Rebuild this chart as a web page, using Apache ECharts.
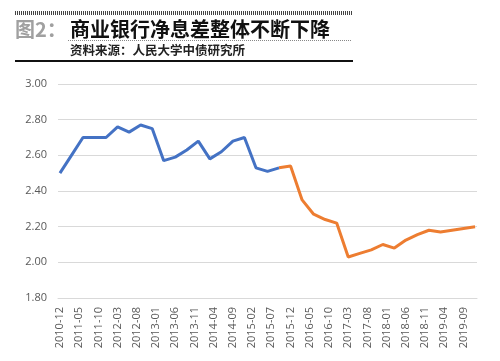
<!DOCTYPE html>
<html><head><meta charset="utf-8">
<script src="https://cdn.jsdelivr.net/npm/echarts@6/dist/echarts.min.js"></script>
<style>html,body{margin:0;padding:0;background:#fff}#c{width:500px;height:361px}</style>
</head><body><div id="c"></div>
<script>
// Quarterly net interest margin (%)
const quarters = ['2010-12','2011-03','2011-06','2011-09','2011-12','2012-03','2012-06','2012-09','2012-12',
  '2013-03','2013-06','2013-09','2013-12','2014-03','2014-06','2014-09','2014-12','2015-03','2015-06','2015-09',
  '2015-12','2016-03','2016-06','2016-09','2016-12','2017-03','2017-06','2017-09','2017-12','2018-03','2018-06',
  '2018-09','2018-12','2019-03','2019-06','2019-09','2019-12'];
const values = [2.50,2.60,2.70,2.70,2.70,2.76,2.73,2.77,2.75,
  2.57,2.59,2.63,2.68,2.58,2.62,2.68,2.70,2.53,2.51,2.53,
  2.54,2.35,2.27,2.24,2.22,2.03,2.05,2.07,2.10,2.08,2.125,
  2.155,2.18,2.17,2.18,2.19,2.20];
const splitAt = '2015-09';
const yTicks = [1.8, 3.0, 0.2]; // min, max, interval

// monthly axis categories 2010-12 .. 2019-12
const months = [];
for (let y = 2010, m = 12; y < 2019 || (y === 2019 && m <= 12); ) {
  months.push(y + '-' + String(m).padStart(2, '0'));
  m++; if (m > 12) { m = 1; y++; }
}
const si = quarters.indexOf(splitAt);
const blue = quarters.slice(0, si + 1).map((q, i) => [q, values[i]]);
const orange = quarters.slice(si).map((q, i) => [q, values[si + i]]);

const chart = echarts.init(document.getElementById('c'), null, {renderer: 'canvas'});
const F = '"Noto Sans CJK SC", "Noto Sans", sans-serif';
chart.setOption({
  animation: false,
  backgroundColor: '#fff',
  grid: {left: 58, right: 23, top: 84, bottom: 63, containLabel: false},
  xAxis: {
    type: 'category', data: months, boundaryGap: true,
    axisLine: {lineStyle: {color: '#d9d9d9', width: 1}},
    axisTick: {show: false},
    axisLabel: {interval: 4, rotate: 90, color: '#595959', fontSize: 11, fontFamily: 'Open Sans, sans-serif', margin: 9}
  },
  yAxis: {
    type: 'value', min: yTicks[0], max: yTicks[1], interval: yTicks[2],
    axisLine: {show: false}, axisTick: {show: false},
    axisLabel: {color: '#595959', fontSize: 11, fontFamily: 'Open Sans, sans-serif', margin: 11,
      formatter: v => v.toFixed(2)},
    splitLine: {lineStyle: {color: '#d9d9d9', width: 1}}
  },
  series: [
    {type: 'line', data: blue, symbol: 'none', lineStyle: {color: '#4472C4', width: 3}, z: 3},
    {type: 'line', data: orange, symbol: 'none', lineStyle: {color: '#ED7D31', width: 3}, z: 3}
  ],
  graphic: [
    {type: 'line', shape: {x1: 15, y1: 13, x2: 353, y2: 13}, style: {stroke: '#444', lineWidth: 4, lineDash: [1, 1]}},
    {type: 'text', left: 15, top: 19, style: {text: '图2：', font: 'bold 20px ' + F, fill: '#a0a0a0'}},
    {type: 'text', left: 70, top: 19, style: {text: '商业银行净息差整体不断下降', font: 'bold 20px ' + F, fill: '#111'}},
    {type: 'line', shape: {x1: 68, y1: 40.5, x2: 352, y2: 40.5}, style: {stroke: '#888', lineWidth: 1, lineDash: [1, 1]}},
    {type: 'text', left: 70, top: 44, style: {text: '资料来源：人民大学中债研究所', font: 'bold 12.5px ' + F, fill: '#222'}},
    {type: 'line', shape: {x1: 15, y1: 61, x2: 353, y2: 61}, style: {stroke: '#111', lineWidth: 2}}
  ]
});
</script></body></html>
